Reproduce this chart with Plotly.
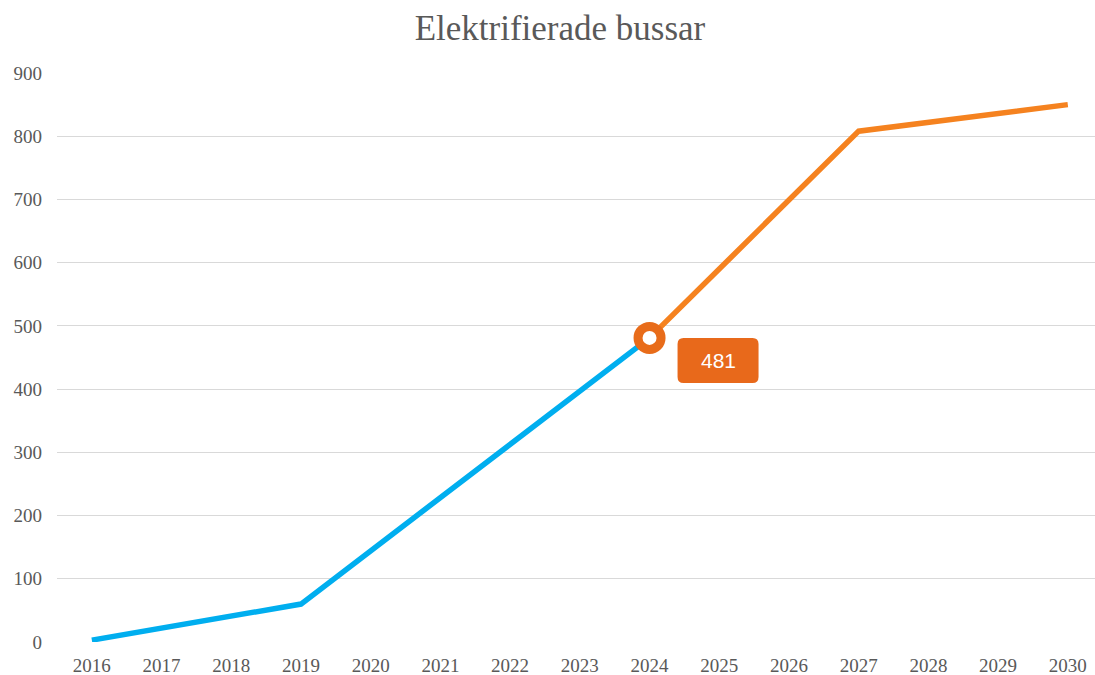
import plotly.graph_objects as go

years = list(range(2016, 2031))
historic = [3, None, None, 60, None, None, None, None, 481, None, None, None, None, None, None]
forecast = [None, None, None, None, None, None, None, None, 481, None, None, 808, None, None, 850]
highlight_year = 2024
highlight_value = 481
y_ticks = [0, 100, 200, 300, 400, 500, 600, 700, 800, 900]

SERIF = "Liberation Serif, Times New Roman, serif"

fig = go.Figure()
fig.add_trace(go.Scatter(x=years, y=historic, mode="lines", connectgaps=True,
                         line=dict(color="#00AEEF", width=5.5), showlegend=False))
fig.add_trace(go.Scatter(x=years, y=forecast, mode="lines", connectgaps=True,
                         line=dict(color="#F5821F", width=5.5), showlegend=False))
fig.add_trace(go.Scatter(x=[highlight_year], y=[highlight_value], mode="markers",
                         marker=dict(size=23, color="white",
                                     line=dict(color="#E86C1A", width=9)),
                         showlegend=False))

# rounded label box anchored to the highlighted point (pixel offsets)
fig.add_shape(type="path", xref="x", yref="y", xsizemode="pixel", ysizemode="pixel",
              xanchor=highlight_year, yanchor=highlight_value,
              path="M 34,0 L 103,0 Q 109,0 109,-6 L 109,-39 Q 109,-45 103,-45 "
                   "L 34,-45 Q 28,-45 28,-39 L 28,-6 Q 28,0 34,0 Z",
              fillcolor="#E8691B", line=dict(width=0), layer="above")
fig.add_annotation(x=highlight_year, y=highlight_value, text=str(highlight_value),
                   showarrow=False, xshift=68.5, yshift=-22.5,
                   font=dict(family="Liberation Sans, Arial", size=21, color="white"))

fig.update_layout(
    width=1095, height=675,
    paper_bgcolor="white", plot_bgcolor="white",
    margin=dict(l=57, r=0, t=73, b=33),
    title=dict(text="Elektrifierade bussar", x=0.5114, xanchor="center", y=0.959, yanchor="middle",
               font=dict(family=SERIF, size=35, color="#595959")),
    font=dict(family=SERIF, size=19, color="#595959"),
)
fig.update_xaxes(range=[2015.5, 2030.39], tickmode="array", tickvals=years,
                 ticktext=[str(y) for y in years], showgrid=False, zeroline=False,
                 showline=False, ticks="", ticklabelstandoff=10, automargin=False)
fig.update_yaxes(range=[0, 900], tickmode="array", tickvals=y_ticks,
                 showgrid=True, gridcolor="#D9D9D9", gridwidth=1, zeroline=False,
                 showline=False, ticks="", ticklabelstandoff=14, automargin=False)

fig.write_html("out.html", config={"displayModeBar": False},
               post_script="document.body.style.margin='0';")
